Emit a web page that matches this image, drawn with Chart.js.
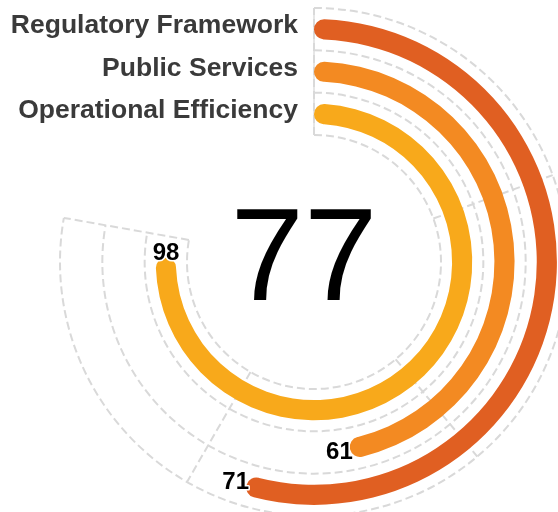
<!DOCTYPE html>
<html>
<head>
<meta charset="utf-8">
<style>
html,body{margin:0;padding:0;background:#fff}
#wrap{width:558px;height:512px}
</style>
<script src="https://cdn.jsdelivr.net/npm/chart.js@4.4.0/dist/chart.umd.min.js"></script>
</head>
<body>
<div id="wrap"><canvas id="c" width="558" height="512"></canvas></div>
<script>

const categories = ["Regulatory Framework", "Public Services", "Operational Efficiency"]
const values = [71, 61, 98]
const colors = ["#E05F22", "#F38A22", "#F8A91B"]
const angleMax = 101
const angleTicks = [0, 25.25, 50.5, 75.75, 101]

const sweep = 280
const padWeight = 11
const barWeight = 20

// each category gets a band: spacer, bar, spacer (outermost first)
let datasets = []
categories.forEach((name, i) => {
datasets.push({data: [angleMax], backgroundColor: "rgba(0,0,0,0)", borderWidth: 0, weight: padWeight})
datasets.push({
label: name,
data: [values[i], angleMax - values[i]],
backgroundColor: [colors[i], "rgba(0,0,0,0)"],
borderWidth: 0,
borderRadius: c => c.dataIndex === 0 ? barWeight : 0,
weight: barWeight
})
datasets.push({data: [angleMax], backgroundColor: "rgba(0,0,0,0)", borderWidth: 0, weight: padWeight})
})

function angleOf(v){
return -Math.PI / 2 + v / angleMax * sweep * Math.PI / 180
}

const polarGrid = {
id: "polarGrid",
beforeDatasetsDraw(chart){
let ctx = chart.ctx
let arc0 = chart.getDatasetMeta(0).data[0]
let cx = arc0.x, cy = arc0.y
let radii = []
for (let i = 0; i < categories.length; i++) radii.push(chart.getDatasetMeta(i * 3).controller.outerRadius)
let inner = chart.getDatasetMeta(categories.length * 3 - 1).controller.innerRadius
radii.push(inner)
let outer = radii[0]

ctx.save()
ctx.strokeStyle = "#d9d9d9"
ctx.lineWidth = 2
ctx.setLineDash([8, 4])
radii.forEach(r => {
ctx.beginPath()
ctx.arc(cx, cy, r, angleOf(0), angleOf(angleMax))
ctx.stroke()
})
angleTicks.forEach(t => {
let a = angleOf(t)
ctx.beginPath()
ctx.moveTo(cx + inner * Math.cos(a), cy + inner * Math.sin(a))
ctx.lineTo(cx + outer * Math.cos(a), cy + outer * Math.sin(a))
ctx.stroke()
})
ctx.setLineDash([])
ctx.lineWidth = 1.3
ctx.beginPath()
ctx.moveTo(cx, cy - inner)
ctx.lineTo(cx, cy - outer)
ctx.stroke()
ctx.restore()
},
afterDatasetsDraw(chart){
let ctx = chart.ctx
let arc0 = chart.getDatasetMeta(0).data[0]
let cx = arc0.x, cy = arc0.y
ctx.save()

// category labels next to the start of each bar
ctx.font = "bold 26.5px 'Liberation Sans', Arial, sans-serif"
ctx.fillStyle = "#3a3a3a"
ctx.textAlign = "right"
ctx.textBaseline = "alphabetic"
categories.forEach((name, i) => {
let ctrl = chart.getDatasetMeta(i * 3 + 1).controller
let rMid = (ctrl.outerRadius + ctrl.innerRadius) / 2
ctx.fillText(name, cx - 16, cy - rMid + 4)
})

// value labels at the end of each bar
ctx.font = "bold 24px 'Liberation Sans', Arial, sans-serif"
ctx.textAlign = "center"
ctx.textBaseline = "middle"
ctx.lineJoin = "round"
categories.forEach((name, i) => {
let arc = chart.getDatasetMeta(i * 3 + 1).data[0]
let rMid = (arc.outerRadius + arc.innerRadius) / 2
let e = arc.endAngle
let px = cx + rMid * Math.cos(e)
let py = cy + rMid * Math.sin(e)
let dx = -Math.sin(e), dy = Math.cos(e)
let txt = String(values[i])
let w = ctx.measureText(txt).width
let h = 18
let ext = Math.abs(dx) * w / 2 + Math.abs(dy) * h / 2 - 4
let lx = px + dx * ext
let ly = py + dy * ext
ctx.strokeStyle = "#fff"
ctx.lineWidth = 3
ctx.strokeText(txt, lx, ly + 1)
ctx.fillStyle = "#000"
ctx.fillText(txt, lx, ly + 1)
})

// average in the middle
let avg = Math.round(values.reduce((a, b) => a + b, 0) / values.length)
ctx.font = "132px 'Liberation Sans', Arial, sans-serif"
ctx.textAlign = "center"
ctx.textBaseline = "alphabetic"
ctx.fillStyle = "#000"
ctx.fillText(String(avg), cx - 10, cy + 38)
ctx.restore()
}
}

new Chart(document.getElementById("c"), {
type: "doughnut",
data: {labels: ["value", "rest"], datasets: datasets},
options: {
responsive: false,
animation: false,
events: [],
rotation: 0,
circumference: sweep,
radius: 254,
cutout: "50%",
layout: {padding: {left: 70, top: 12, right: 0, bottom: 0}},
plugins: {legend: {display: false}, tooltip: {enabled: false}}
},
plugins: [polarGrid]
})

</script>
</body>
</html>
